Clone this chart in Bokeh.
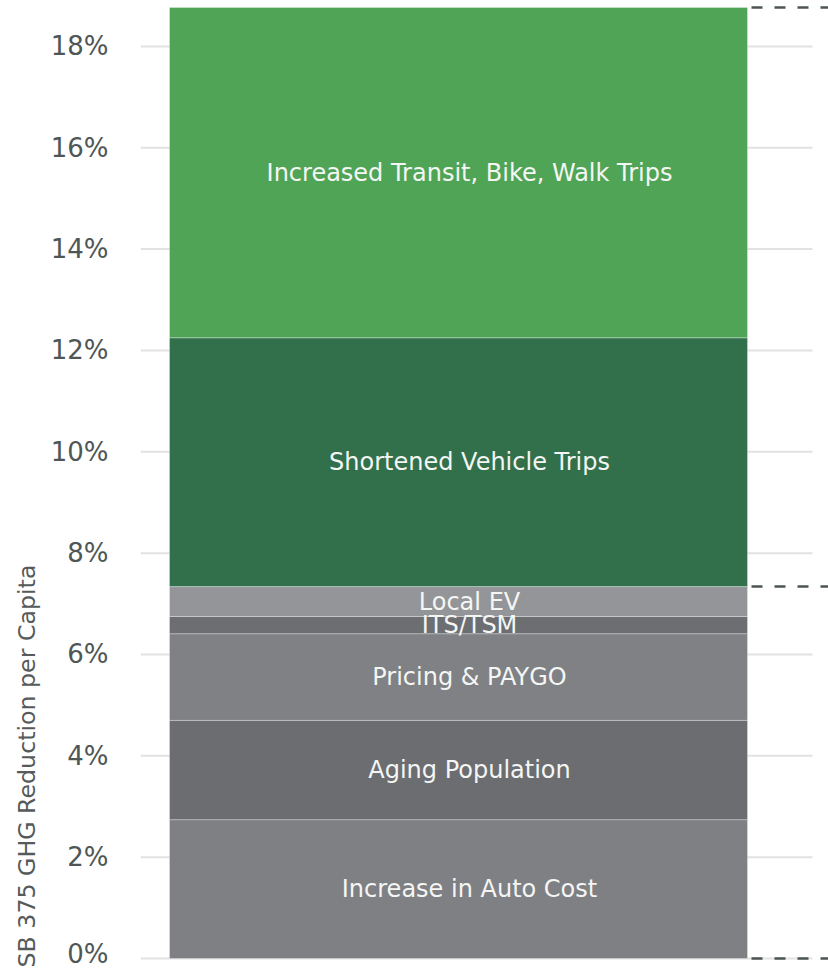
import numpy as np
from bokeh.plotting import figure
from bokeh.models import Range1d, FixedTicker, ColumnDataSource, Title
from bokeh.core.properties import value
from bokeh.embed import file_html
from bokeh.resources import INLINE

# ---- data ----
CATEGORIES = [
    "Increase in Auto Cost",
    "Aging Population",
    "Pricing & PAYGO",
    "ITS/TSM",
    "Local EV",
    "Shortened Vehicle Trips",
    "Increased Transit, Bike, Walk Trips",
]
VALUES = [2.74, 1.96, 1.71, 0.34, 0.59, 4.91, 6.52]
COLORS = ["#7f8084", "#6c6d71", "#808185", "#6d6e72", "#949598", "#31704a", "#50a456"]
TICKS = [0, 2, 4, 6, 8, 10, 12, 14, 16, 18]
TICK_LABELS = ["0%", "2%", "4%", "6%", "8%", "10%", "12%", "14%", "16%", "18%"]
AXIS_TITLE = "SB 375 GHG Reduction per Capita"
DASH_AFTER = [0, 5, 7]  # number of stacked segments below each dashed marker

tops = np.cumsum(VALUES)
bottoms = tops - np.array(VALUES)
mids = (tops + bottoms) / 2
levels = [0.0 if n == 0 else float(tops[n - 1]) for n in DASH_AFTER]

# ---- layout ----
BAR_X, BAR_W = 318, 578
LABEL_X = 329
GRID_X0, GRID_X1 = 0, 672
DASH_X0, DASH_X1 = 611, 690
FONT = "DejaVu Sans"

p = figure(
    width=828, height=968,
    output_backend="svg", toolbar_location=None,
    x_range=Range1d(0, 688), y_range=Range1d(-0.079, 18.808),
    x_axis_location=None,
    min_border_left=140, min_border_right=0, min_border_top=5, min_border_bottom=6,
    outline_line_color=None,
)
p.grid.visible = False

p.segment(x0=GRID_X0, x1=GRID_X1, y0=TICKS, y1=TICKS, line_color="#e2e2e2", line_width=2)

src = ColumnDataSource(dict(cat=CATEGORIES, bottom=bottoms, top=tops, mid=mids, color=COLORS))
p.vbar(x=BAR_X, width=BAR_W, bottom="bottom", top="top", fill_color="color",
       line_color="white", line_alpha=0.3, line_width=1, source=src)
p.text(x=LABEL_X, y="mid", text="cat", source=src, text_align="center", text_baseline="middle",
       text_color="#f4f6f4", text_font=value(FONT), text_font_size="24px")

p.segment(x0=DASH_X0, x1=DASH_X1, y0=levels, y1=levels, line_color="#4d5454",
          line_width=2.5, line_dash="11 12")

ax = p.yaxis[0]
ax.ticker = FixedTicker(ticks=TICKS)
ax.major_label_overrides = dict(zip(TICKS, TICK_LABELS))
ax.axis_line_color = None
ax.major_tick_line_color = None
ax.major_tick_out = 0
ax.major_tick_in = 0
ax.minor_tick_line_color = None
ax.minor_tick_out = 0
ax.major_label_standoff = 32
ax.major_label_text_font = FONT
ax.major_label_text_font_size = "26px"
ax.major_label_text_color = "#4f5656"

p.add_layout(Title(text=AXIS_TITLE, align="left", offset=-5, standoff=14,
                   text_font=FONT, text_font_size="23.7px", text_font_style="normal",
                   text_color="#555a5a"), "left")

open("out.html", "w").write(file_html(p, INLINE))
